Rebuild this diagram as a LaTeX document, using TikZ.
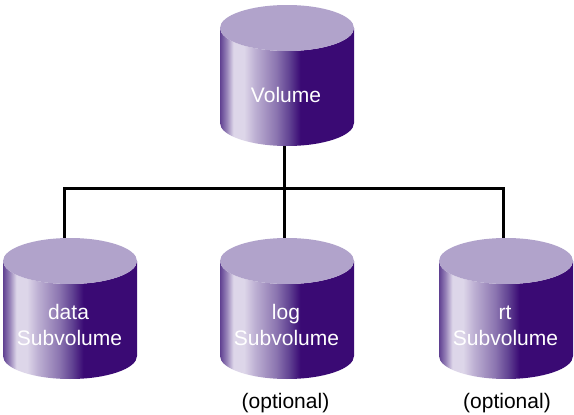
\documentclass[tikz,border=0pt]{standalone}
\usepackage{fontspec}
\setmainfont{Liberation Sans}
\definecolor{captop}{HTML}{B1A3CB}
\definecolor{cyldark}{HTML}{3A0A74}
\definecolor{cylmid}{HTML}{5F4091}
\definecolor{cyllight}{HTML}{DDD6E9}
\pgfdeclarehorizontalshading{cylshade}{100bp}{
  color(0bp)=(cylmid);
  color(25bp)=(cylmid);
  color(27.5bp)=(cylmid!55!cyllight);
  color(30bp)=(cyllight);
  color(34bp)=(cyllight);
  color(38bp)=(cyllight!75!cylmid);
  color(46bp)=(cylmid!65!cyllight);
  color(51bp)=(cylmid);
  color(55bp)=(cyldark);
  color(100bp)=(cyldark)}
\tikzset{
  vessel/.style={minimum width=134pt,minimum height=141pt,inner sep=0pt,outer sep=0pt},
  whitetext/.style={text=white,font=\fontsize{21}{26}\selectfont,anchor=base,inner sep=0pt},
  blacktext/.style={text=black,font=\fontsize{21}{26}\selectfont,anchor=base,inner sep=0pt},
  link/.style={draw=black,line width=3pt,line join=miter}
}
\newcommand{\vesselshape}[1]{%
  \path[shading=cylshade]
    ([yshift=-23pt]#1.north west) -- ([yshift=23pt]#1.south west)
    arc[x radius=67pt,y radius=23pt,start angle=180,end angle=360]
    -- ([yshift=-23pt]#1.north east)
    arc[x radius=67pt,y radius=23pt,start angle=0,end angle=-180] -- cycle;
  \fill[captop] ([yshift=-23pt]#1.north) ellipse[x radius=67pt,y radius=23pt];
}
\begin{document}
\begin{tikzpicture}[x=1pt,y=-1pt]
\useasboundingbox (0,0) rectangle (574,415);
\node[vessel] (vol) at (287,75.5) {};
\node[vessel] (data) at (70,308.5) {};
\node[vessel] (log) at (287,308.5) {};
\node[vessel] (rt) at (506,308.5) {};
\coordinate (busy) at (287,188);
\draw[link] ([xshift=-3pt]vol.south) -- ([xshift=-3pt]log.north);
\draw[link] ([xshift=-6pt]data.north) |- (busy) -| ([xshift=-3pt]rt.north);
\vesselshape{vol}
\vesselshape{data}
\vesselshape{log}
\vesselshape{rt}
\node[whitetext] (tvol) at (286,102) {Volume};
\node[whitetext] (tdata) at (68.5,319.5) {data};
\node[whitetext] (tdatas) at (69.5,345.5) {Subvolume};
\node[whitetext] (tlog) at (286,319.5) {log};
\node[whitetext] (tlogs) at (286.5,345.5) {Subvolume};
\node[whitetext] (trt) at (505,319.5) {rt};
\node[whitetext] (trts) at (505.5,345.5) {Subvolume};
\node[blacktext] (opt1) at (285.5,408) {(optional)};
\node[blacktext] (opt2) at (507,408) {(optional)};
\end{tikzpicture}
\end{document}
